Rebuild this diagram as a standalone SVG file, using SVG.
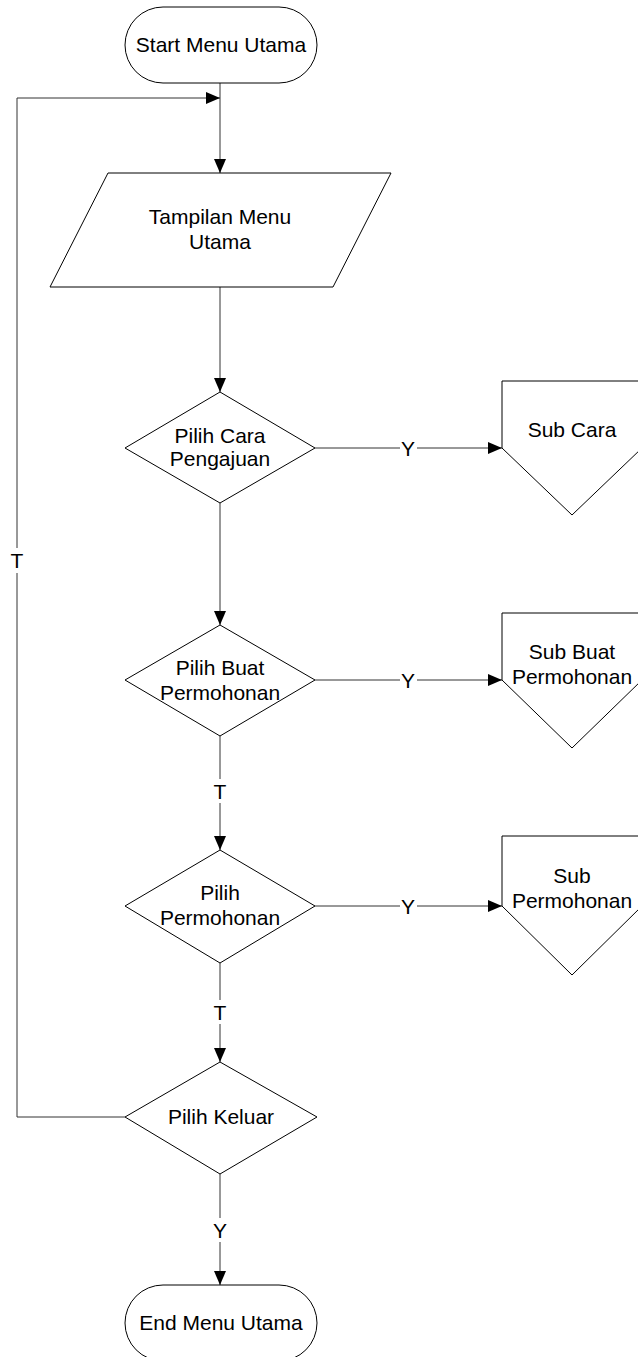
<svg xmlns="http://www.w3.org/2000/svg" width="638" height="1357" viewBox="0 0 638 1357">
  <style>
    .shape { fill: #ffffff; stroke: #000000; stroke-width: 1; }
    .conn { fill: none; stroke: #333333; stroke-width: 1; }
    .txt { font-family: "Liberation Sans", Arial, sans-serif; font-size: 21px; fill: #000000; text-anchor: middle; }
    .lbl { font-family: "Liberation Sans", Arial, sans-serif; font-size: 21px; fill: #000000; text-anchor: middle; dominant-baseline: central; }
    .lblbg { fill: #ffffff; stroke: none; }
  </style>
  <defs>
    <marker id="arrow" viewBox="0 0 14 12" refX="14" refY="6" markerWidth="14" markerHeight="12" markerUnits="userSpaceOnUse" orient="auto">
      <path d="M0,0 L14,6 L0,12 Z" fill="#000000"/>
    </marker>
  </defs>

  <rect width="638" height="1357" fill="#ffffff"/>

  <!-- connectors -->
  <g id="connectors">
    <line class="conn" x1="220" y1="83" x2="220" y2="173" marker-end="url(#arrow)"/>
    <line class="conn" x1="220" y1="287" x2="220" y2="392" marker-end="url(#arrow)"/>
    <line class="conn" x1="220" y1="503" x2="220" y2="625" marker-end="url(#arrow)"/>
    <line class="conn" x1="220" y1="736" x2="220" y2="850" marker-end="url(#arrow)"/>
    <line class="conn" x1="220" y1="963" x2="220" y2="1062" marker-end="url(#arrow)"/>
    <line class="conn" x1="220" y1="1174" x2="220" y2="1285" marker-end="url(#arrow)"/>
    <line class="conn" x1="315" y1="448" x2="502" y2="448" marker-end="url(#arrow)"/>
    <line class="conn" x1="315" y1="680" x2="502" y2="680" marker-end="url(#arrow)"/>
    <line class="conn" x1="315" y1="906" x2="502" y2="906" marker-end="url(#arrow)"/>
    <polyline class="conn" points="125,1117 17,1117 17,98 220,98" marker-end="url(#arrow)"/>

    <!-- branch labels -->
    <rect class="lblbg" x="400" y="438" width="17" height="20"/>
    <text class="lbl" x="408" y="448">Y</text>
    <rect class="lblbg" x="400" y="670" width="17" height="20"/>
    <text class="lbl" x="408" y="680">Y</text>
    <rect class="lblbg" x="400" y="896" width="17" height="20"/>
    <text class="lbl" x="408" y="906">Y</text>
    <rect class="lblbg" x="211" y="779" width="18" height="24"/>
    <text class="lbl" x="220" y="791">T</text>
    <rect class="lblbg" x="211" y="1000" width="18" height="24"/>
    <text class="lbl" x="220" y="1012">T</text>
    <rect class="lblbg" x="211" y="1218" width="18" height="24"/>
    <text class="lbl" x="220" y="1230">Y</text>
    <rect class="lblbg" x="8" y="548" width="18" height="25"/>
    <text class="lbl" x="17" y="560">T</text>
  </g>

  <!-- start terminator -->
  <g id="start">
    <rect class="shape" x="125" y="7" width="192" height="76" rx="38" ry="38"/>
    <text class="txt" x="221" y="52">Start Menu Utama</text>
  </g>

  <!-- main menu display (input/output) -->
  <g id="tampilan">
    <polygon class="shape" points="108,173 391,173 333,287 50,287"/>
    <text class="txt" x="220" y="224">Tampilan Menu</text>
    <text class="txt" x="220" y="249">Utama</text>
  </g>

  <!-- decisions -->
  <g id="pilih-cara">
    <polygon class="shape" points="220,392 315,448 220,503 125,448"/>
    <text class="txt" x="220" y="443">Pilih Cara</text>
    <text class="txt" x="220" y="466">Pengajuan</text>
  </g>

  <g id="pilih-buat">
    <polygon class="shape" points="220,625 315,680 220,736 125,680"/>
    <text class="txt" x="220" y="675">Pilih Buat</text>
    <text class="txt" x="220" y="700">Permohonan</text>
  </g>

  <g id="pilih-permohonan">
    <polygon class="shape" points="220,850 315,906 220,963 125,906"/>
    <text class="txt" x="220" y="900">Pilih</text>
    <text class="txt" x="220" y="925">Permohonan</text>
  </g>

  <g id="pilih-keluar">
    <polygon class="shape" points="220,1062 317,1117 220,1174 125,1117"/>
    <text class="txt" x="221" y="1124">Pilih Keluar</text>
  </g>

  <!-- off-page connectors -->
  <g id="sub-cara">
    <polygon class="shape" points="502,381 642,381 642,448 572,515 502,448"/>
    <text class="txt" x="572" y="437">Sub Cara</text>
  </g>

  <g id="sub-buat">
    <polygon class="shape" points="502,613 642,613 642,680 572,748 502,680"/>
    <text class="txt" x="572" y="659">Sub Buat</text>
    <text class="txt" x="572" y="684">Permohonan</text>
  </g>

  <g id="sub-permohonan">
    <polygon class="shape" points="502,836 642,836 642,906 572,975 502,906"/>
    <text class="txt" x="572" y="883">Sub</text>
    <text class="txt" x="572" y="908">Permohonan</text>
  </g>

  <!-- end terminator -->
  <g id="end">
    <rect class="shape" x="125" y="1285" width="192" height="76" rx="38" ry="38"/>
    <text class="txt" x="221" y="1330">End Menu Utama</text>
  </g>
</svg>
